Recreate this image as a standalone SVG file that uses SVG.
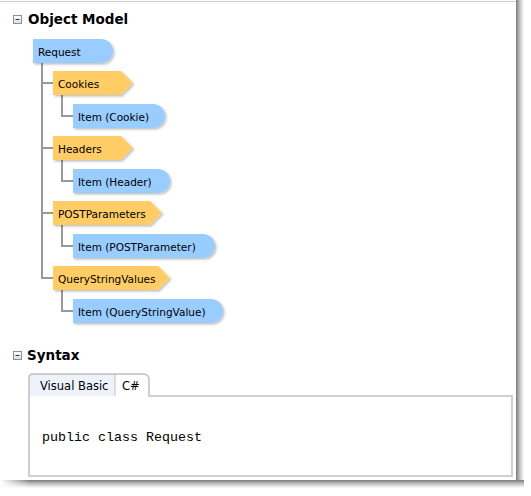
<svg xmlns="http://www.w3.org/2000/svg" width="531" height="496" viewBox="0 0 531 496">
  <defs>
    <linearGradient id="shR" x1="0" y1="0" x2="1" y2="0">
      <stop offset="0" stop-color="#7a7a7a"/>
      <stop offset="0.4" stop-color="#b8b8b8"/>
      <stop offset="1" stop-color="#ffffff"/>
    </linearGradient>
    <linearGradient id="shB" x1="0" y1="0" x2="0" y2="1">
      <stop offset="0" stop-color="#7a7a7a"/>
      <stop offset="0.4" stop-color="#b8b8b8"/>
      <stop offset="1" stop-color="#ffffff"/>
    </linearGradient>
    <linearGradient id="shBfade" x1="0" y1="0" x2="1" y2="0">
      <stop offset="0" stop-color="#fff" stop-opacity="1"/>
      <stop offset="1" stop-color="#fff" stop-opacity="0"/>
    </linearGradient>
    <linearGradient id="icon" x1="0" y1="0" x2="0" y2="1">
      <stop offset="0" stop-color="#ffffff"/>
      <stop offset="1" stop-color="#d8dde6"/>
    </linearGradient>
    <filter id="ds" x="-10%" y="-20%" width="130%" height="160%">
      <feDropShadow dx="1.5" dy="1.5" stdDeviation="1" flood-color="#000" flood-opacity="0.25"/>
    </filter>
    <style>
      .blue { fill: #99ccff; filter: url(#ds); }
      .orange { fill: #ffcc66; filter: url(#ds); }
      .lbl { font-family: "DejaVu Sans", Verdana, sans-serif; font-size: 10.5px; fill: #000; }
      .head { font-family: "DejaVu Sans", Verdana, sans-serif; font-size: 13.5px; font-weight: bold; fill: #000; }
      .tab { font-family: "DejaVu Sans", Verdana, sans-serif; font-size: 11.5px; fill: #000; }
      .code { font-family: "Liberation Mono", "Courier New", monospace; font-size: 13.33px; fill: #000; }
      .conn { stroke: #999; stroke-width: 2; fill: none; }
    </style>
  </defs>

  <rect x="0" y="0" width="531" height="496" fill="#fff"/>

  <!-- page frame and shadow -->
  <g id="page">
    <rect x="516" y="0" width="8" height="488" fill="url(#shR)"/>
    <rect x="0" y="480" width="524" height="8" fill="url(#shB)"/>
    <rect x="0" y="480" width="30" height="8" fill="url(#shBfade)"/>
    <rect x="0" y="0" width="516" height="480" fill="#fff"/>
    <line x1="0" y1="1.5" x2="516" y2="1.5" stroke="#d0d0d0" stroke-width="1"/>
  </g>

  <!-- section headers -->
  <g id="hdr-object-model">
    <rect x="13.5" y="15.5" width="8" height="8" fill="url(#icon)" stroke="#8a8f99" stroke-width="1"/>
    <line x1="15.5" y1="19.5" x2="19.5" y2="19.5" stroke="#333" stroke-width="1"/>
    <text class="head" x="28" y="24">Object Model</text>
  </g>
  <g id="hdr-syntax">
    <rect x="13.5" y="351.5" width="8" height="8" fill="url(#icon)" stroke="#8a8f99" stroke-width="1"/>
    <line x1="15.5" y1="355.5" x2="19.5" y2="355.5" stroke="#333" stroke-width="1"/>
    <text class="head" x="27" y="359.5">Syntax</text>
  </g>

  <!-- connectors -->
  <g id="connectors">
    <path class="conn" d="M42,63 V278 M41,83 H53 M41,148 H53 M41,213 H53 M41,278 H53"/>
    <path class="conn" d="M62,95 V116 H73"/>
    <path class="conn" d="M62,160 V181 H73"/>
    <path class="conn" d="M62,225 V246 H73"/>
    <path class="conn" d="M62,290 V311 H73"/>
  </g>

  <!-- nodes -->
  <g id="node-request">
    <path class="blue" d="M33,39 H101 A12,12 0 0 1 101,63 H33 Z"/>
    <text class="lbl" x="38" y="55.5">Request</text>
  </g>
  <g id="node-cookies">
    <path class="orange" d="M53,71 H121 L133,83 L121,95 H53 Z"/>
    <text class="lbl" x="58" y="87.5">Cookies</text>
  </g>
  <g id="node-item-cookie">
    <path class="blue" d="M73,104 H153 A12,12 0 0 1 153,128 H73 Z"/>
    <text class="lbl" x="78" y="120.5">Item (Cookie)</text>
  </g>
  <g id="node-headers">
    <path class="orange" d="M53,136 H121 L133,148 L121,160 H53 Z"/>
    <text class="lbl" x="58" y="152.5">Headers</text>
  </g>
  <g id="node-item-header">
    <path class="blue" d="M73,169 H158 A12,12 0 0 1 158,193 H73 Z"/>
    <text class="lbl" x="78" y="185.5">Item (Header)</text>
  </g>
  <g id="node-postparameters">
    <path class="orange" d="M53,201 H150 L162,213 L150,225 H53 Z"/>
    <text class="lbl" x="58" y="217.5">POSTParameters</text>
  </g>
  <g id="node-item-postparameter">
    <path class="blue" d="M73,234 H203 A12,12 0 0 1 203,258 H73 Z"/>
    <text class="lbl" x="78" y="250.5">Item (POSTParameter)</text>
  </g>
  <g id="node-querystringvalues">
    <path class="orange" d="M53,266 H158 L170,278 L158,290 H53 Z"/>
    <text class="lbl" x="58" y="282.5">QueryStringValues</text>
  </g>
  <g id="node-item-querystringvalue">
    <path class="blue" d="M73,299 H211 A12,12 0 0 1 211,323 H73 Z"/>
    <text class="lbl" x="78" y="315.5">Item (QueryStringValue)</text>
  </g>

  <!-- syntax box -->
  <g id="syntax-box">
    <path d="M29,396 V378 Q29,374 33,374 H115 V396 Z" fill="#eef3fb"/>
    <path d="M115,374 H143 Q149,374 149,380 V396 H115 Z" fill="#fff"/>
    <path d="M29,396 V378 Q29,374 33,374 H143 Q149,374 149,380 V396 H512 V476 H29 Z" fill="none" stroke="#c0c0c0" stroke-width="1.5"/>
    <line x1="115" y1="374" x2="115" y2="396" stroke="#c0c0c0" stroke-width="1"/>
    <text class="tab" x="40" y="390">Visual Basic</text>
    <text class="tab" x="122" y="390">C#</text>
    <text class="code" x="42" y="441">public class Request</text>
  </g>
</svg>
